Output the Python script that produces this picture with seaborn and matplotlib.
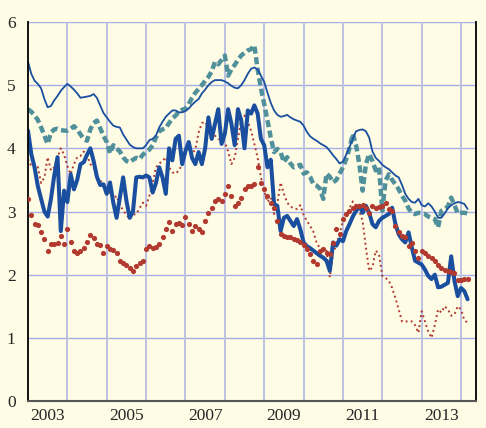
import numpy as np
import pandas as pd
import seaborn as sns
import matplotlib.pyplot as plt

# monthly observations, Jan 2003 .. Mar 2014
start_year = 2003
year_labels = ["2003", "2005", "2007", "2009", "2011", "2013"]

thin_blue = [
    5.37, 5.18, 5.07, 5.02, 4.95, 4.78, 4.65, 4.67, 4.76, 4.83, 4.91, 4.97,
    5.02, 4.98, 4.93, 4.87, 4.80, 4.81, 4.82, 4.83, 4.86, 4.80, 4.68, 4.56,
    4.49, 4.42, 4.36, 4.34, 4.33, 4.22, 4.14, 4.06, 4.02, 4.00, 4.00, 4.00,
    4.05, 4.13, 4.15, 4.20, 4.33, 4.42, 4.50, 4.55, 4.60, 4.60, 4.57, 4.57,
    4.59, 4.63, 4.69, 4.74, 4.78, 4.87, 4.93, 5.00, 5.05, 5.08, 5.08, 5.08,
    5.06, 5.03, 4.99, 4.96, 4.95, 5.00, 5.08, 5.18, 5.26, 5.28, 5.25, 5.15,
    5.05, 4.88, 4.72, 4.60, 4.53, 4.50, 4.51, 4.53, 4.49, 4.46, 4.44, 4.42,
    4.36, 4.26, 4.19, 4.15, 4.12, 4.08, 4.05, 4.02, 3.96, 3.89, 3.83, 3.76,
    3.79, 3.90, 4.02, 4.15, 4.27, 4.29, 4.30, 4.27, 4.17, 3.95, 3.85, 3.80,
    3.74, 3.70, 3.67, 3.62, 3.57, 3.54, 3.42, 3.28, 3.20, 3.15, 3.14, 3.20,
    3.10, 3.08, 3.13, 3.08, 3.00, 2.90, 2.90, 2.97, 3.05, 3.10, 3.13, 3.15,
    3.14, 3.12, 3.04,
]

teal_dashed = [
    4.62, 4.58, 4.52, 4.45, 4.33, 4.20, 4.07, 4.25, 4.30, 4.31, 4.29, 4.28,
    4.28, 4.31, 4.35, 4.30, 4.22, 4.15, 4.12, 4.30, 4.40, 4.44, 4.32, 4.20,
    4.10, 3.92, 4.05, 4.00, 3.95, 3.86, 3.80, 3.78, 3.82, 3.85, 3.83, 3.90,
    3.94, 3.98, 4.05, 4.17, 4.27, 4.30, 4.32, 4.40, 4.47, 4.52, 4.58, 4.61,
    4.63, 4.70, 4.80, 4.88, 4.94, 5.00, 5.07, 5.13, 5.22, 5.37, 5.33, 5.40,
    5.47, 5.15, 5.25, 5.32, 5.40, 5.47, 5.51, 5.55, 5.57, 5.63, 5.25, 4.95,
    4.70, 4.44, 4.17, 3.94, 3.99, 3.94, 3.78, 3.86, 3.76, 3.70, 3.72, 3.74,
    3.60, 3.62, 3.55, 3.43, 3.41, 3.36, 3.20, 3.60, 3.55, 3.46, 3.50, 3.60,
    3.70, 3.83, 4.00, 4.23, 4.05, 3.75, 3.33, 3.75, 3.91, 3.80, 3.65, 3.70,
    3.01, 3.49, 3.59, 3.50, 3.43, 3.35, 3.25, 3.17, 3.05, 2.98, 2.96, 2.98,
    2.97, 2.96, 2.92, 2.90, 2.88, 2.75, 3.01, 3.04, 3.08, 3.22, 3.10, 2.97,
    2.98, 2.98, 2.97,
]

thick_blue = [
    4.28, 3.91, 3.70, 3.40, 3.20, 3.00, 2.92, 3.20, 3.57, 3.86, 2.69, 3.33,
    3.15, 3.59, 3.35, 3.50, 3.75, 3.78, 3.90, 4.00, 3.80, 3.55, 3.42, 3.43,
    3.28, 3.46, 3.14, 2.90, 3.22, 3.54, 3.17, 2.90, 3.00, 3.54, 3.55, 3.54,
    3.57, 3.54, 3.30, 3.45, 3.70, 3.54, 3.28, 4.00, 3.81, 4.15, 4.20, 3.75,
    3.96, 4.10, 3.85, 3.75, 3.94, 3.75, 4.00, 4.49, 4.15, 4.39, 4.62, 4.07,
    4.23, 4.62, 4.39, 4.05, 4.62, 4.44, 4.00, 4.60, 4.55, 4.68, 4.55, 4.15,
    4.05, 3.70, 3.82, 3.12, 3.09, 2.69, 2.90, 2.93, 2.85, 2.77, 2.88, 2.72,
    2.51, 2.45, 2.42, 2.38, 2.34, 2.30, 2.27, 2.22, 2.06, 2.51, 2.46, 2.56,
    2.53, 2.69, 2.80, 2.92, 3.01, 3.09, 2.98, 3.09, 2.98, 2.80, 2.75, 2.85,
    2.90, 2.93, 2.96, 3.06, 2.80, 2.64, 2.56, 2.51, 2.67, 2.43, 2.22, 2.19,
    2.16, 2.08, 1.98, 1.93, 2.00, 1.80, 1.81, 1.84, 1.87, 2.29, 1.90, 1.66,
    1.79, 1.74, 1.61,
]

red_dotted = [
    3.83, 3.72, 3.75, 3.70, 3.45, 3.54, 3.86, 3.65, 3.70, 3.85, 4.00, 3.90,
    3.72, 3.59, 3.75, 3.86, 3.88, 3.95, 3.90, 3.75, 3.70, 3.55, 3.50, 3.40,
    3.38, 3.30, 3.20, 3.25, 3.10, 3.02, 2.95, 2.88, 2.95, 2.96, 3.05, 3.14,
    3.09, 3.25, 3.45, 3.70, 3.76, 3.80, 3.86, 3.70, 3.62, 3.60, 3.65, 3.75,
    3.91, 4.00, 3.92, 3.98, 4.25, 4.40, 4.42, 4.33, 4.26, 4.20, 4.15, 4.12,
    4.10, 3.95, 3.75, 3.85, 4.15, 4.45, 4.52, 4.42, 4.28, 4.07, 3.85, 3.54,
    3.33, 3.15, 3.22, 2.96, 3.12, 3.46, 3.28, 3.14, 3.08, 3.05, 3.04, 3.10,
    2.95, 2.85, 2.77, 2.68, 2.50, 2.42, 2.40, 2.38, 1.96, 2.35, 2.46, 2.65,
    2.85, 2.90, 3.05, 3.16, 3.10, 3.01, 2.85, 2.43, 2.06, 2.12, 2.38, 2.32,
    1.98, 1.95, 1.90, 1.79, 1.63, 1.45, 1.26, 1.26, 1.26, 1.26, 1.20, 1.08,
    1.42, 1.26, 1.10, 1.00, 1.20, 1.45, 1.40, 1.50, 1.45, 1.35, 1.37, 1.50,
    1.45, 1.28, 1.24,
]

red_dots = [
    3.20, 2.95, 2.81, 2.79, 2.67, 2.57, 2.38, 2.48, 2.48, 2.50, 2.61, 2.48,
    2.72, 2.52, 2.38, 2.35, 2.38, 2.42, 2.51, 2.63, 2.58, 2.48, 2.47, 2.34,
    2.45, 2.40, 2.39, 2.34, 2.21, 2.18, 2.16, 2.10, 2.06, 2.14, 2.18, 2.21,
    2.40, 2.45, 2.42, 2.44, 2.48, 2.60, 2.72, 2.83, 2.69, 2.80, 2.82, 2.79,
    2.92, 2.80, 2.69, 2.77, 2.72, 2.67, 2.85, 2.98, 3.06, 3.17, 3.20, 3.17,
    3.28, 3.41, 3.25, 3.09, 3.13, 3.22, 3.35, 3.40, 3.41, 3.44, 3.70, 3.45,
    3.35, 3.25, 3.13, 3.05, 2.85, 2.65, 2.62, 2.60, 2.59, 2.57, 2.55, 2.52,
    2.47, 2.40, 2.33, 2.22, 2.17, 2.38, 2.41, 2.35, 2.32, 2.50, 2.72, 2.64,
    2.88, 2.96, 3.01, 3.05, 3.09, 3.09, 3.10, 3.05, 2.98, 3.09, 3.06, 3.07,
    3.09, 3.14, 3.04, 3.01, 2.77, 2.67, 2.62, 2.59, 2.46, 2.50, 2.38, 2.26,
    2.38, 2.35, 2.30, 2.27, 2.22, 2.15, 2.10, 2.08, 2.06, 2.04, 2.02, 1.91,
    1.92, 1.93, 1.93,
]

n = len(thin_blue)
df = pd.DataFrame({
    "t": start_year + np.arange(n) / 12.0,
    "thin_blue": thin_blue,
    "teal_dashed": teal_dashed,
    "thick_blue": thick_blue,
    "red_dotted": red_dotted,
    "red_dots": red_dots,
})

bg = "#FEFCE5"
blue = "#1A4F9F"
teal = "#50909B"
red = "#B2392F"

sns.set_style("white", {"axes.facecolor": bg, "figure.facecolor": bg})
plt.rcParams["font.family"] = ["Liberation Serif", "DejaVu Serif"]

fig = plt.figure(figsize=(4.86, 4.28), dpi=100)
ax = fig.add_axes([28 / 486, 1 - 401 / 428, 448 / 486, 379 / 428])

sns.lineplot(data=df, x="t", y="red_dotted", ax=ax, color=red, lw=1.4,
             linestyle=(0, (1, 1.6)))
sns.lineplot(data=df, x="t", y="teal_dashed", ax=ax, color=teal, lw=3.2,
             linestyle=(0, (1.6, 0.8)))
sns.lineplot(data=df, x="t", y="thin_blue", ax=ax, color=blue, lw=1.3)
sns.lineplot(data=df, x="t", y="thick_blue", ax=ax, color=blue, lw=2.9)
sns.scatterplot(data=df, x="t", y="red_dots", ax=ax, color=red, s=14,
                linewidth=0, zorder=5)

ax.set_xlim(2003, 2014.38)
ax.set_ylim(0, 6)
ax.set_xlabel("")
ax.set_ylabel("")

# gridlines
for y in range(1, 7):
    ax.axhline(y, color="#A3AFE6", lw=1, zorder=0)
for yr in range(2004, 2015):
    ax.axvline(yr, color="#BCC1E2", lw=1.4, zorder=0)

# year boundaries as ticks, labels in the middle of odd years
ax.set_xticks(range(2003, 2015))
ax.set_xticklabels([])
ax.set_xticks([int(s) + 0.5 for s in year_labels], minor=True)
ax.set_xticklabels(year_labels, minor=True, fontsize=12.5)
ax.tick_params(axis="x", which="major", direction="inout", length=6,
               width=1.3, color="#555555")
ax.tick_params(axis="x", which="minor", length=0, pad=5)

ax.set_yticks(range(0, 7))
ax.set_yticklabels([str(v) for v in range(0, 7)], fontsize=12.5)
ax.tick_params(axis="y", which="major", length=0, pad=9,
               labelleft=True, labelright=True)

for side in ["left", "right"]:
    ax.spines[side].set_color("black")
    ax.spines[side].set_linewidth(1.3)
ax.spines["bottom"].set_color("#555555")
ax.spines["bottom"].set_linewidth(1.5)
ax.spines["top"].set_visible(False)

plt.savefig("out.png", dpi=100, facecolor=bg)
